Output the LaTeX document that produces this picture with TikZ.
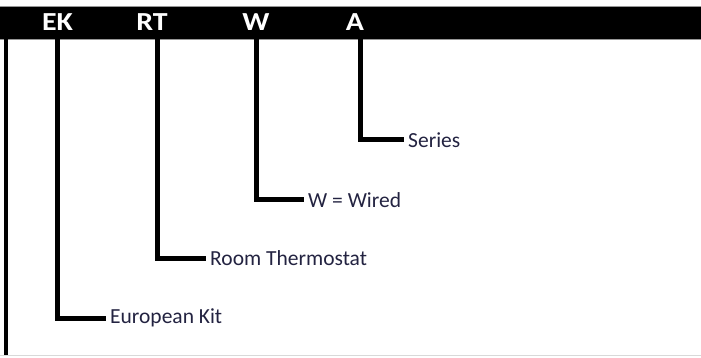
\documentclass[tikz,border=0pt]{standalone}
\usepackage{fontspec}
\setmainfont{Carlito}
\definecolor{labelcol}{RGB}{35,35,65}
\definecolor{edgegray}{RGB}{150,150,150}
\begin{document}
\begin{tikzpicture}[x=1pt,y=-1pt,
  hdr/.style={text=white,font=\fontsize{26}{26}\selectfont\bfseries,inner sep=0pt,anchor=center,xscale=1.15},
  lbl/.style={text=labelcol,font=\fontsize{21.5}{21.5}\selectfont,inner sep=0pt,anchor=west},
  conn/.style={draw=black,line width=5pt,line join=miter}]
\useasboundingbox (0,0) rectangle (701,358);
\fill[white] (0,0) rectangle (701,358);
% header bar
\node[draw=edgegray,fill=black,line width=0.8pt,minimum width=703pt,minimum height=33pt,inner sep=0pt,anchor=north west] (bar) at (-1,6) {};
\node[hdr] (ek) at (57.5,22) {EK};
\node[hdr] (rt) at (152,22) {RT};
\node[hdr] (w) at (256,22) {W};
\node[hdr] (a) at (355,22) {A};
% drop points on bar bottom
\coordinate (ekd) at (57.5,39);
\coordinate (rtd) at (157,39);
\coordinate (wd) at (256,39);
\coordinate (ad) at (360,39);
% labels
\node[lbl] (ser) at (408,140) {Series};
\node[lbl] (wir) at (308,200) {W = Wired};
\node[lbl] (room) at (210,258) {Room Thermostat};
\node[lbl] (euro) at (110,318) {European Kit};
% connectors
\draw[conn] (ad) |- ([xshift=-4pt]ser.west);
\draw[conn] (wd) |- ([xshift=-4pt]wir.west);
\draw[conn] (rtd) |- ([xshift=-4pt]room.west);
\draw[conn] (ekd) |- ([xshift=-4pt]euro.west);
% frame lines
\coordinate (lt) at (5.5,39);
\coordinate (lb) at (5.5,356);
\draw[black,line width=4pt] (lt) -- (lb);
\coordinate (bl) at (0,355.5);
\coordinate (br) at (701,355.5);
\draw[gray!30,line width=1pt] (bl) -- (br);
\end{tikzpicture}
\end{document}
